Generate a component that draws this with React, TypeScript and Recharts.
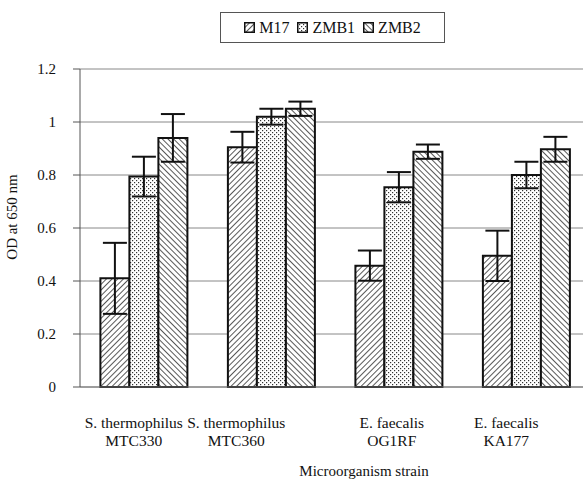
import { BarChart, Bar, XAxis, YAxis, CartesianGrid, ErrorBar, Label } from "recharts";

const strains = [
  ["S. thermophilus", "MTC330"],
  ["S. thermophilus", "MTC360"],
  ["E. faecalis", "OG1RF"],
  ["E. faecalis", "KA177"],
];
const m17 = [0.41, 0.905, 0.458, 0.495];
const m17Err = [0.134, 0.058, 0.057, 0.095];
const zmb1 = [0.794, 1.02, 0.754, 0.8];
const zmb1Err = [0.075, 0.03, 0.057, 0.05];
const zmb2 = [0.94, 1.05, 0.888, 0.897];
const zmb2Err = [0.09, 0.027, 0.027, 0.047];
const yTicks = [0, 0.2, 0.4, 0.6, 0.8, 1, 1.2];

const data = strains.map((s, i) => ({
  name: s.join(" "),
  M17: m17[i],
  M17e: m17Err[i],
  ZMB1: zmb1[i],
  ZMB1e: zmb1Err[i],
  ZMB2: zmb2[i],
  ZMB2e: zmb2Err[i],
}));

const font = "Liberation Serif";

// label nudges, the original labels sit a bit left of the bar groups
const tickShift = [-10, -35, -7, -20];

const Patterns = ({ id = "" }: { id?: string }) => (
  <defs>
    <pattern id={`hatchA${id}`} width="4" height="4" patternUnits="userSpaceOnUse" patternTransform="rotate(45)">
      <rect width="4" height="4" fill="#fff" />
      <line x1="0" y1="0" x2="0" y2="4" stroke="#111" strokeWidth="1.4" />
    </pattern>
    <pattern id={`dots${id}`} width="4" height="4" patternUnits="userSpaceOnUse">
      <rect width="4" height="4" fill="#fff" />
      <rect x="0" y="0" width="1.2" height="1.2" fill="#333" />
      <rect x="2" y="2" width="1.2" height="1.2" fill="#333" />
    </pattern>
    <pattern id={`hatchB${id}`} width="4" height="4" patternUnits="userSpaceOnUse" patternTransform="rotate(-45)">
      <rect width="4" height="4" fill="#fff" />
      <line x1="0" y1="0" x2="0" y2="4" stroke="#111" strokeWidth="1.4" />
    </pattern>
  </defs>
);

const StrainTick = (props: any) => {
  const { x, y, payload, index } = props;
  const i0 = payload.index ?? index;
  const lines = strains[i0] || [payload.value];
  const dx = tickShift[i0] || 0;
  return (
    <g transform={`translate(${x + dx},${y})`}>
      {lines.map((l, i) => (
        <text key={i} x={0} y={33 + i * 18} textAnchor="middle" fontFamily={font} fontSize={15.5} fill="#111">
          {l}
        </text>
      ))}
    </g>
  );
};

const legendItems = [
  { name: "M17", fill: "url(#hatchAlg)" },
  { name: "ZMB1", fill: "url(#dotslg)" },
  { name: "ZMB2", fill: "url(#hatchBlg)" },
];

const App = () => (
  <div style={{ position: "absolute", left: 0, top: 0, width: 583, height: 480, overflow: "hidden", background: "#fff", fontFamily: font }}>
    <div
      style={{
        position: "absolute",
        left: 220,
        top: 12,
        width: 225,
        height: 31,
        border: "1px solid #555",
        boxSizing: "border-box",
        display: "flex",
        alignItems: "center",
        justifyContent: "center",
        gap: 8,
        fontSize: 16,
        fontFamily: font,
        color: "#111",
      }}
    >
      <svg width={0} height={0} style={{ position: "absolute" }}>
        <Patterns id="lg" />
      </svg>
      {legendItems.map((it) => (
        <span key={it.name} style={{ display: "flex", alignItems: "center", gap: 4 }}>
          <svg width={11} height={11}>
            <rect x={0.75} y={0.75} width={9.5} height={9.5} fill={it.fill} stroke="#111" strokeWidth={1.5} />
          </svg>
          {it.name}
        </span>
      ))}
    </div>
    <BarChart
      width={600}
      height={480}
      data={data}
      margin={{ top: 69, right: 10, bottom: 0, left: 0 }}
      barCategoryGap="16%"
      barGap={0}
    >
      <Patterns />
      <CartesianGrid vertical={false} stroke="#888" strokeWidth={1} />
      <XAxis
        dataKey="name"
        height={93}
        tick={<StrainTick />}
        tickLine={false}
        axisLine={{ stroke: "#777", strokeWidth: 1 }}
        interval={0}
      >
        <Label
          value="Microorganism strain"
          position="insideBottom"
          offset={4}
          dx={29}
          fontFamily={font}
          fontSize={15}
          fill="#111"
        />
      </XAxis>
      <YAxis
        width={80}
        domain={[0, 1.2]}
        ticks={yTicks}
        tickSize={7}
        tickMargin={17}
        tickFormatter={(v) => String(v)}
        axisLine={{ stroke: "#555" }}
        tickLine={{ stroke: "#555" }}
        tick={{ fontSize: 15, fill: "#111", fontFamily: font }}
      >
        <Label
          value="OD at 650 nm"
          angle={-90}
          position="insideLeft"
          offset={12}
          dy={-11}
          fontFamily={font}
          fontSize={15}
          fill="#111"
          textAnchor="middle"
        />
      </YAxis>
      <Bar dataKey="M17" fill="url(#hatchA)" stroke="#111" strokeWidth={2} isAnimationActive={false}>
        <ErrorBar dataKey="M17e" width={12} stroke="#111" strokeWidth={2} />
      </Bar>
      <Bar dataKey="ZMB1" fill="url(#dots)" stroke="#111" strokeWidth={2} isAnimationActive={false}>
        <ErrorBar dataKey="ZMB1e" width={12} stroke="#111" strokeWidth={2} />
      </Bar>
      <Bar dataKey="ZMB2" fill="url(#hatchB)" stroke="#111" strokeWidth={2} isAnimationActive={false}>
        <ErrorBar dataKey="ZMB2e" width={12} stroke="#111" strokeWidth={2} />
      </Bar>
    </BarChart>
  </div>
);

export default App;
